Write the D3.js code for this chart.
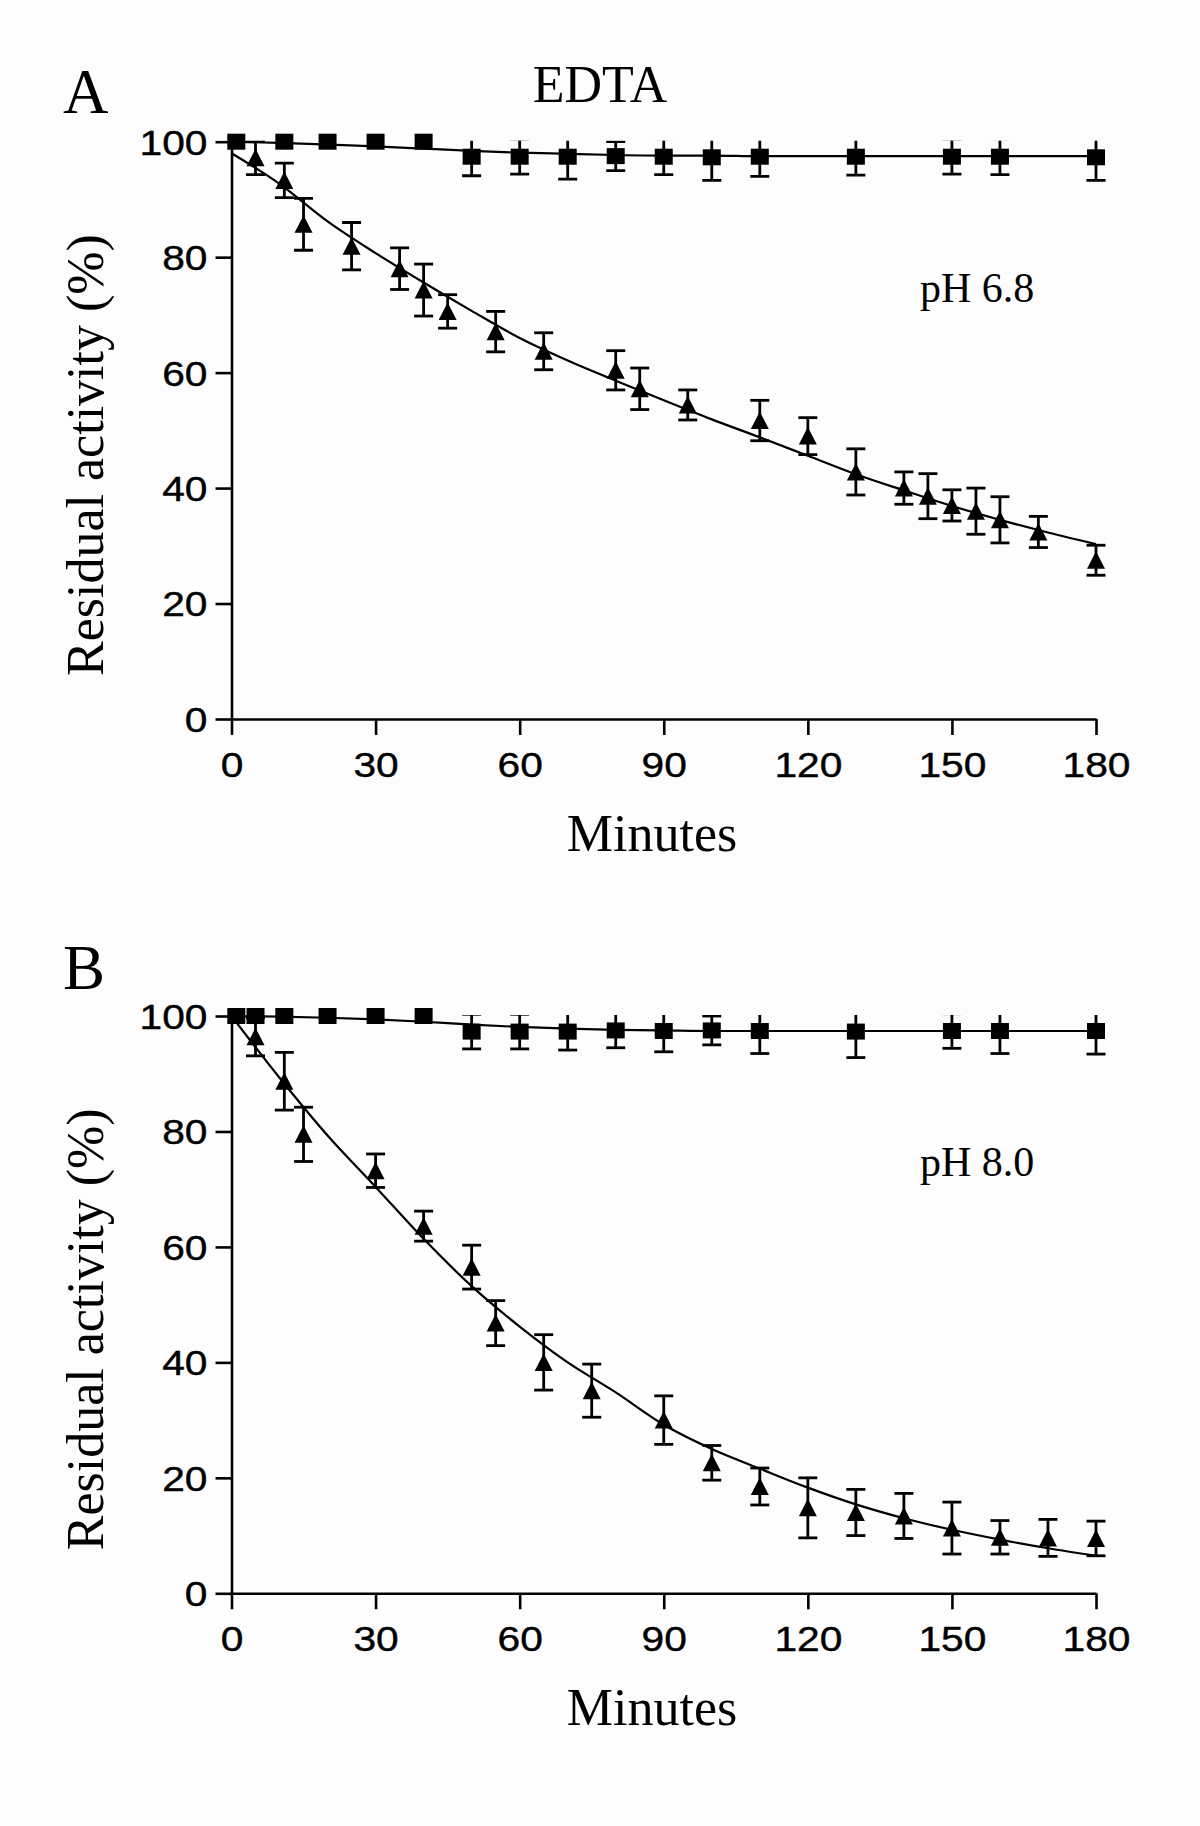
<!DOCTYPE html>
<html><head><meta charset="utf-8">
<script src="https://cdn.jsdelivr.net/npm/d3@7"></script>
<style>
html,body{margin:0;padding:0;background:#fdfdfd;}
svg{display:block;}
</style></head><body>
<svg id="chart" width="1200" height="1826"></svg>
<script>
// ---------- data ----------
const xTicks = [0, 30, 60, 90, 120, 150, 180];
const yTicks = [0, 20, 40, 60, 80, 100];
const fitT = [0, 10, 20, 30, 40, 50, 60, 70, 80, 90, 100, 110, 120, 130, 140, 150, 160, 170, 180];

// Panel A (pH 6.8)
const aSqT    = [1, 11, 20, 30, 40, 50, 60, 70, 80, 90, 100, 110, 130, 150, 160, 180];
const aSqMean = [100, 100, 100, 100, 100, 97.4, 97.4, 97.4, 97.5, 97.4, 97.3, 97.4, 97.4, 97.4, 97.4, 97.3];
const aSqErr  = [0, 0, 0, 0, 0, 3.3, 3.0, 3.9, 2.5, 3.1, 4.0, 3.4, 3.2, 3.0, 3.1, 4.0];
const aTriT    = [5, 11, 15, 25, 35, 40, 45, 55, 65, 80, 85, 95, 110, 120, 130, 140, 145, 150, 155, 160, 168, 180];
const aTriMean = [97.2, 93.3, 85.7, 81.9, 78.0, 74.3, 70.6, 67.1, 63.7, 60.4, 57.2, 54.4, 51.7, 49.0, 42.8, 40.0, 38.6, 37.0, 36.0, 34.5, 32.4, 27.5];
const aTriErr  = [2.9, 3.0, 4.5, 4.1, 3.6, 4.5, 2.9, 3.5, 3.2, 3.4, 3.6, 2.6, 3.5, 3.2, 4.0, 2.8, 3.9, 2.7, 4.0, 4.0, 2.7, 2.6];
const aSqFit  = [100, 99.8, 99.5, 99.2, 98.8, 98.4, 98.1, 97.9, 97.7, 97.6, 97.6, 97.5, 97.5, 97.5, 97.5, 97.5, 97.5, 97.5, 97.5];
const aTriFit = [98.0, 92.7, 86.2, 80.7, 75.6, 70.7, 66.0, 62.1, 58.6, 55.2, 51.9, 48.8, 45.6, 42.4, 39.6, 36.9, 34.5, 32.3, 30.3];

// Panel B (pH 8.0)
const bSqT    = [1, 5, 11, 20, 30, 40, 50, 60, 70, 80, 90, 100, 110, 130, 150, 160, 180];
const bSqMean = [100, 100, 100, 100, 100, 100, 97.3, 97.3, 97.3, 97.5, 97.4, 97.5, 97.4, 97.3, 97.4, 97.4, 97.4];
const bSqErr  = [0, 0, 0, 0, 0, 0, 3.0, 3.0, 3.2, 3.0, 3.6, 2.5, 3.9, 4.5, 3.0, 3.9, 4.0];
const bTriT    = [5, 11, 15, 30, 40, 50, 55, 65, 75, 90, 100, 110, 120, 130, 140, 150, 160, 170, 180];
const bTriMean = [96.4, 88.7, 79.5, 73.2, 63.6, 56.5, 46.8, 40.0, 35.1, 30.0, 22.6, 18.5, 14.8, 14.0, 13.4, 11.3, 9.7, 9.6, 9.5];
const bTriErr  = [3.3, 5.0, 4.7, 2.9, 2.6, 3.8, 3.9, 4.8, 4.6, 4.2, 3.0, 3.2, 5.2, 4.0, 3.9, 4.5, 2.9, 3.2, 3.0];
const bSqFit  = [100, 99.9, 99.7, 99.4, 99.0, 98.5, 98.1, 97.8, 97.6, 97.5, 97.4, 97.4, 97.4, 97.4, 97.4, 97.4, 97.4, 97.4, 97.4];
const bTriFit = [100, 89.3, 79.3, 70.4, 61.4, 53.2, 46.2, 40.0, 34.8, 29.2, 25.0, 21.6, 18.3, 15.4, 13.0, 11.0, 9.3, 7.8, 6.5];

const panelLetters = ["A", "B"];
const phLabels = ["pH 6.8", "pH 8.0"];
const topTitle = "EDTA";
const xTitle = "Minutes";
const yTitle = "Residual activity (%)";

// ---------- drawing ----------
const svg = d3.select("#chart");
svg.append("rect").attr("width", 1200).attr("height", 1826).attr("fill", "#fdfdfd");

const SANS = "'Liberation Sans', Arial, sans-serif";
const SERIF = "'Liberation Serif', 'Times New Roman', serif";
const STRETCH = 1.18;

svg.append("text").text(topTitle)
  .attr("x", 600).attr("y", 102).attr("text-anchor", "middle")
  .attr("font-family", SERIF).attr("font-size", 52).attr("fill", "#000");

function zip(t, m, e) { return t.map((d, i) => ({t: d, m: m[i], e: e ? e[i] : 0})); }

function drawPanel(idx, off, sq, tri, sqFit, triFit) {
  const g = svg.append("g");
  const x = d3.scaleLinear().domain([0, 180]).range([231.5, 1096]);
  const y = d3.scaleLinear().domain([0, 100]).range([719 + off, 141.7 + off]);

  // panel letter
  g.append("text").text(panelLetters[idx])
    .attr("x", 63).attr("y", 113 + off + (idx ? 2 : 0))
    .attr("font-family", SERIF).attr("font-size", 63).attr("fill", "#000");

  // axes
  const xa = g.append("g").attr("transform", `translate(0,${y(0)})`)
    .call(d3.axisBottom(x).tickValues(xTicks).tickSize(16).tickSizeOuter(0));
  const ya = g.append("g").attr("transform", `translate(${x(0)},0)`)
    .call(d3.axisLeft(y).tickValues(yTicks).tickSize(16).tickSizeOuter(0));
  [xa, ya].forEach(a => {
    a.select(".domain").attr("stroke", "#000").attr("stroke-width", 2.6);
    a.selectAll(".tick line").attr("stroke", "#000").attr("stroke-width", 2.6);
    a.selectAll(".tick text").attr("fill", "#000")
      .attr("font-family", SANS).attr("font-size", 34.5)
      .attr("stroke", "#000").attr("stroke-width", 0.4)
      .attr("transform", `scale(${STRETCH},1)`);
  });
  xa.selectAll(".tick text").attr("y", 58).attr("dy", 0);
  ya.selectAll(".tick text").attr("x", -24 / STRETCH).attr("dy", "0.36em");

  // axis titles
  g.append("text").text(xTitle)
    .attr("x", 652).attr("y", 851 + off).attr("text-anchor", "middle")
    .attr("font-family", SERIF).attr("font-size", 52).attr("fill", "#000");
  g.append("text").text(yTitle)
    .attr("transform", `translate(103,${455 + off}) rotate(-90)`)
    .attr("text-anchor", "middle")
    .attr("font-family", SERIF).attr("font-size", 52).attr("fill", "#000");

  // pH label
  g.append("text").text(phLabels[idx])
    .attr("x", 920).attr("y", 302 + off)
    .attr("font-family", SERIF).attr("font-size", 42).attr("fill", "#000");

  // fit curves
  const line = d3.line().x((d, i) => x(fitT[i])).y(d => y(d)).curve(d3.curveMonotoneX);
  [sqFit, triFit].forEach(arr => {
    g.append("path").attr("d", line(arr)).attr("fill", "none")
      .attr("stroke", "#000").attr("stroke-width", 2.2);
  });

  // clip for error bars (plot tops out at 100)
  const cid = "clip" + idx;
  svg.append("clipPath").attr("id", cid).append("rect")
    .attr("x", 0).attr("y", y(100) - 1).attr("width", 1200).attr("height", 900);

  const eg = g.append("g").attr("clip-path", `url(#${cid})`)
    .attr("stroke", "#000").attr("stroke-width", 2.8);
  const cap = 9.5;
  sq.concat(tri).filter(d => d.e > 0).forEach(d => {
    const cx = x(d.t), y1 = y(d.m + d.e), y2 = y(d.m - d.e);
    eg.append("line").attr("x1", cx).attr("x2", cx).attr("y1", y1).attr("y2", y2);
    eg.append("line").attr("x1", cx - cap).attr("x2", cx + cap).attr("y1", y1).attr("y2", y1);
    eg.append("line").attr("x1", cx - cap).attr("x2", cx + cap).attr("y1", y2).attr("y2", y2);
  });

  // markers
  g.append("g").selectAll("rect").data(sq).join("rect")
    .attr("x", d => x(d.t) - 9).attr("y", d => y(d.m) - 8)
    .attr("width", 18).attr("height", 16).attr("fill", "#000");
  g.append("g").selectAll("path").data(tri).join("path")
    .attr("d", d => {
      const cx = x(d.t), cy = y(d.m);
      return `M${cx},${cy - 9}L${cx + 9},${cy + 8.5}L${cx - 9},${cy + 8.5}Z`;
    })
    .attr("fill", "#000");
}

drawPanel(0, 0, zip(aSqT, aSqMean, aSqErr), zip(aTriT, aTriMean, aTriErr), aSqFit, aTriFit);
drawPanel(1, 874.3, zip(bSqT, bSqMean, bSqErr), zip(bTriT, bTriMean, bTriErr), bSqFit, bTriFit);
</script>
</body></html>
